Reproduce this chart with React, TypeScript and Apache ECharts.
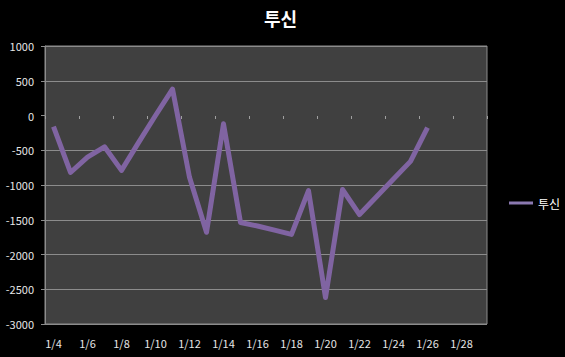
import React, { useEffect, useRef } from "react";
import * as echarts from "echarts";

const categories = [
  "1/4", "1/5", "1/6", "1/7", "1/8", "1/9", "1/10", "1/11", "1/12", "1/13",
  "1/14", "1/15", "1/16", "1/17", "1/18", "1/19", "1/20", "1/21", "1/22", "1/23",
  "1/24", "1/25", "1/26", "1/27", "1/28", "1/29",
];
const seriesName = "투신";
const values: (number | null)[] = [
  -160, -820, -600, -450, -790, -390, 0, 380, -890, -1680,
  -120, -1540, -1590, -1650, -1710, -1080, -2620, -1065, -1425, -1170,
  -915, -660, -175, null, null, null,
];
const yMin = -3000;
const yMax = 1000;
const yInterval = 500;

export default function App() {
  const ref = useRef<HTMLDivElement>(null);
  useEffect(() => {
    if (!ref.current) return;
    const chart = echarts.init(ref.current, null, { renderer: "svg" });
    const grid = "#8c8c8c";
    const nLines = (yMax - yMin) / yInterval + 1;
    const splitColors: string[] = [];
    for (let i = 0; i < nLines; i++) {
      const v = yMin + i * yInterval;
      splitColors.push(v === 0 ? "rgba(0,0,0,0)" : grid);
    }
    const font = "'Noto Sans CJK KR', 'Open Sans', sans-serif";
    chart.setOption({
      animation: false,
      backgroundColor: "#000000",
      title: {
        text: seriesName,
        left: 259,
        top: 4,
        textStyle: { color: "#ffffff", fontSize: 18, fontWeight: "bold", fontFamily: font },
      },
      legend: {
        left: 504,
        top: 192,
        itemWidth: 24,
        itemHeight: 3,
        itemGap: 5,
        textStyle: { color: "#ffffff", fontSize: 12, fontFamily: font },
        data: [{ name: seriesName, icon: "rect", itemStyle: { color: "#8a78b0" } }],
      },
      grid: {
        left: 45,
        top: 46,
        right: 78,
        bottom: 33,
        show: true,
        backgroundColor: "#404040",
        borderColor: grid,
        borderWidth: 1,
        containLabel: false,
      },
      xAxis: [
        {
          type: "category",
          data: categories,
          boundaryGap: true,
          position: "bottom",
          axisLine: { show: false, onZero: false },
          axisTick: { show: false },
          axisLabel: {
            interval: 1,
            color: "#e6e6e6",
            fontSize: 11,
            margin: 13,
            fontFamily: font,
          },
          splitLine: { show: false },
        },
        {
          type: "category",
          data: categories,
          boundaryGap: true,
          position: "bottom",
          offset: -208,
          axisLine: { show: false, onZero: false },
          axisTick: { show: true, interval: 1, length: 3, lineStyle: { color: "#a0a0a0" } },
          axisLabel: { show: false },
          splitLine: { show: false },
        },
      ],
      yAxis: {
        type: "value",
        min: yMin,
        max: yMax,
        interval: yInterval,
        axisLine: { show: true, lineStyle: { color: grid } },
        axisTick: { show: true, length: 4, lineStyle: { color: grid } },
        axisLabel: {
          color: "#e6e6e6",
          fontSize: 11,
          margin: 11,
          fontFamily: font,
          formatter: (v: number) => String(v),
        },
        splitLine: { show: true, lineStyle: { color: splitColors, width: 1 } },
      },
      series: [
        {
          name: seriesName,
          type: "line",
          data: values,
          xAxisIndex: 0,
          symbol: "none",
          connectNulls: false,
          lineStyle: { color: "#8064A2", width: 5, join: "round" },
          itemStyle: { color: "#8064A2" },
        },
      ],
    });
    return () => chart.dispose();
  }, []);
  return (
    <div
      ref={ref}
      style={{ position: "fixed", left: 0, top: 0, width: 565, height: 357 }}
    />
  );
}
